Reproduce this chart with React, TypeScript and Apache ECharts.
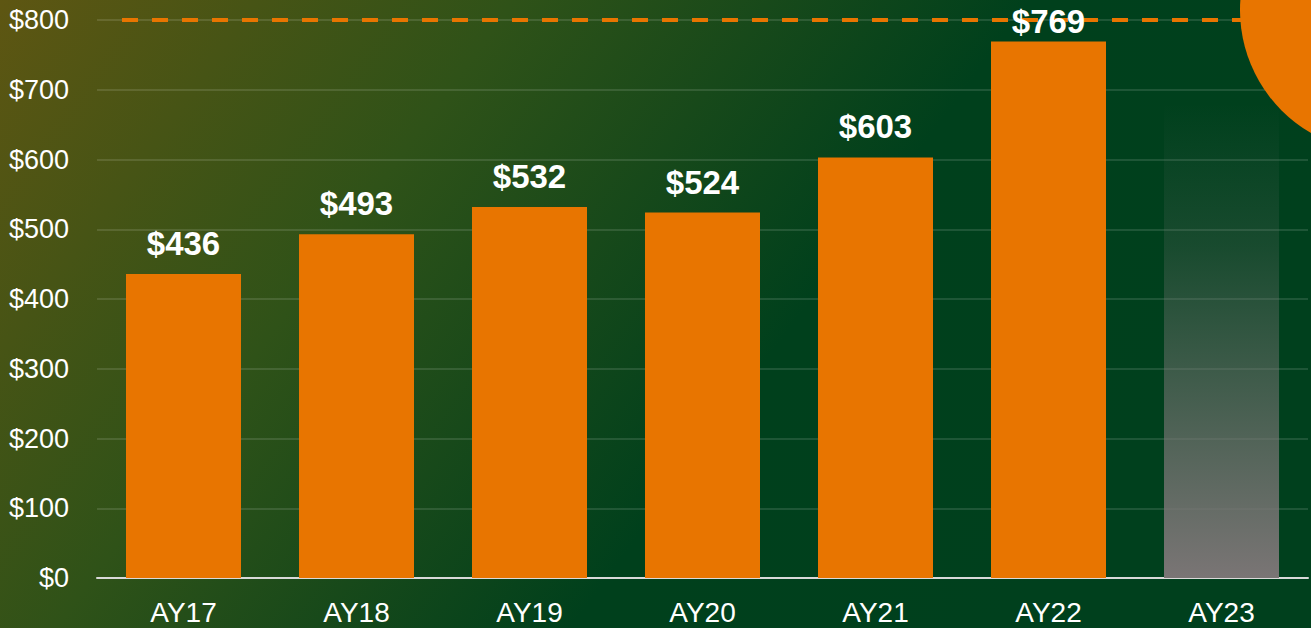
import React, { useEffect, useRef } from "react";
import * as echarts from "echarts";

const categories = ["AY17", "AY18", "AY19", "AY20", "AY21", "AY22", "AY23"];
const values = [436, 493, 532, 524, 603, 769, null];
const ghostValues = [null, null, null, null, null, null, 680];
const yTicks = { min: 0, max: 800, interval: 100 };
const targetValue = 800;

const FONT = "'Liberation Sans', Arial, sans-serif";

export default function App() {
  const ref = useRef<HTMLDivElement>(null);
  useEffect(() => {
    const chart = echarts.init(ref.current!, undefined, { renderer: "svg" });
    const barData = values.map((v, i) =>
      i === 5 ? { value: v, label: { distance: 4 } } : v
    );
    chart.setOption({
      animation: false,
      backgroundColor: {
        type: "linear",
        x: 0,
        y: 0,
        x2: 1,
        y2: 0.35,
        colorStops: [
          { offset: 0, color: "#5e5612" },
          { offset: 0.35, color: "#2f5218" },
          { offset: 0.7, color: "#00401c" },
          { offset: 1, color: "#00401d" },
        ],
      },
      grid: { left: 97, right: 3, top: 20, bottom: 50, containLabel: false },
      xAxis: {
        type: "category",
        data: categories,
        axisLine: { show: true, lineStyle: { color: "#d9d9d9", width: 2 } },
        axisTick: { show: false },
        axisLabel: {
          color: "#ffffff",
          fontFamily: FONT,
          fontSize: 28,
          margin: 20,
        },
      },
      yAxis: {
        type: "value",
        min: yTicks.min,
        max: yTicks.max,
        interval: yTicks.interval,
        axisLine: { show: false },
        axisTick: { show: false },
        splitLine: { lineStyle: { color: "rgba(255,255,255,0.16)", width: 1.5 } },
        axisLabel: {
          color: "#ffffff",
          fontFamily: FONT,
          fontSize: 27,
          margin: 28,
          formatter: (v: number) => "$" + v,
        },
      },
      series: [
        {
          type: "bar",
          data: barData,
          barWidth: 115,
          barGap: "-100%",
          z: 3,
          itemStyle: { color: "#e87500" },
          label: {
            show: true,
            position: "top",
            distance: 14,
            color: "#ffffff",
            fontWeight: "bold",
            fontSize: 33,
            fontFamily: FONT,
            formatter: (p: any) => "$" + p.value,
          },
          markLine: {
            silent: true,
            symbol: "none",
            z: 1,
            label: { show: false },
            lineStyle: { color: "#e87500", type: [16, 14], width: 4 },
            data: [
              [
                { x: 122, yAxis: targetValue },
                { x: 1245, yAxis: targetValue },
              ],
            ],
          },
        },
        {
          type: "bar",
          data: ghostValues,
          barWidth: 115,
          barGap: "-100%",
          itemStyle: {
            color: {
              type: "linear",
              x: 0,
              y: 0,
              x2: 0,
              y2: 1,
              colorStops: [
                { offset: 0, color: "rgba(122,117,117,0)" },
                { offset: 0.3, color: "rgba(122,117,117,0.2)" },
                { offset: 1, color: "rgba(122,117,117,1)" },
              ],
            },
          },
        },
      ],
      graphic: [
        {
          type: "circle",
          shape: { cx: 1382, cy: 10, r: 142 },
          style: { fill: "#e87500" },
          z: 100,
        },
      ],
    });
    return () => chart.dispose();
  }, []);
  return (
    <div
      ref={ref}
      style={{ position: "fixed", left: 0, top: 0, width: 1311, height: 628 }}
    />
  );
}
